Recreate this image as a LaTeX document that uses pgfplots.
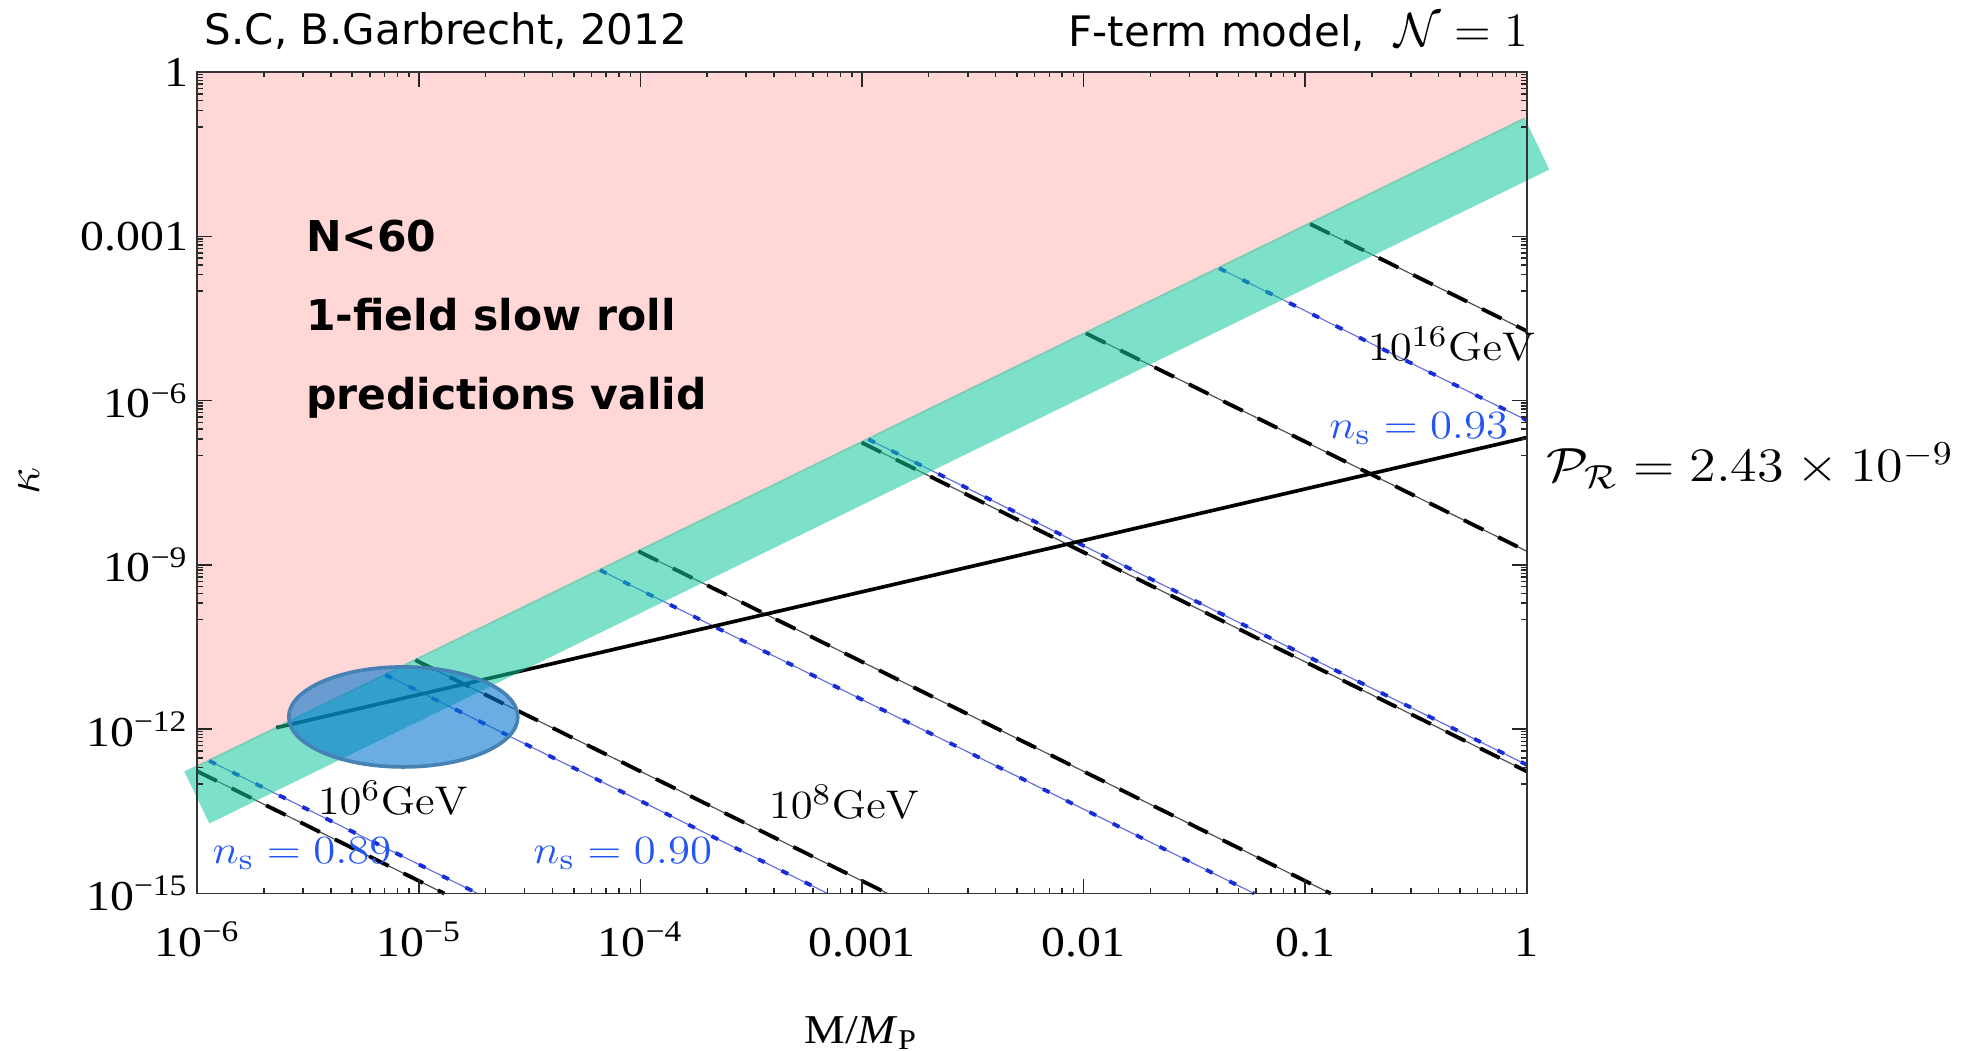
\documentclass[border=0pt]{standalone}
\usepackage[no-math]{fontspec}
\usepackage{graphicx}
\usepackage{pgfplots}
\pgfplotsset{compat=1.18}

\newfontfamily\djv{DejaVu Sans}
\newfontfamily\tickfont[FakeStretch=1.12]{Liberation Serif}

\definecolor{regionpink}{RGB}{255,215,215}
\definecolor{bandgreen}{RGB}{19,199,155}
\definecolor{ellfill}{RGB}{0,116,206}
\definecolor{elledge}{RGB}{70,130,180}
\definecolor{nsblue}{RGB}{25,45,215}
\definecolor{nsthin}{RGB}{100,110,225}
\definecolor{labelblue}{RGB}{35,85,245}

\newcommand{\cmlabel}[1]{\fontsize{12.4}{14}\selectfont\scalebox{1.12}[1]{$#1$}}

\begin{document}
\begin{tikzpicture}
\begin{axis}[
  scale only axis, width=398.8pt, height=246.45pt,
  xmode=log, ymode=log,
  xmin=1e-6, xmax=1, ymin=1e-15, ymax=1,
  clip=false, axis on top,
  xtick={1e-6,1e-5,1e-4,1e-3,1e-2,1e-1,1},
  xticklabels={10\textsuperscript{−6},10\textsuperscript{−5},10\textsuperscript{−4},0.001,0.01,0.1,1},
  ytick={1e-15,1e-12,1e-9,1e-6,1e-3,1},
  yticklabels={10\textsuperscript{−15},10\textsuperscript{−12},10\textsuperscript{−9},10\textsuperscript{−6},0.001,1},
  minor xtick={2e-6,3e-6,4e-6,5e-6,6e-6,7e-6,8e-6,9e-6,
               2e-5,3e-5,4e-5,5e-5,6e-5,7e-5,8e-5,9e-5,
               2e-4,3e-4,4e-4,5e-4,6e-4,7e-4,8e-4,9e-4,
               2e-3,3e-3,4e-3,5e-3,6e-3,7e-3,8e-3,9e-3,
               2e-2,3e-2,4e-2,5e-2,6e-2,7e-2,8e-2,9e-2,
               2e-1,3e-1,4e-1,5e-1,6e-1,7e-1,8e-1,9e-1},
  minor ytick={1e-13,2e-13,3e-13,4e-13,5e-13,6e-13,7e-13,8e-13,9e-13,
               1e-10,2e-10,3e-10,4e-10,5e-10,6e-10,7e-10,8e-10,9e-10,
               1e-7,2e-7,3e-7,4e-7,5e-7,6e-7,7e-7,8e-7,9e-7,
               1e-4,2e-4,3e-4,4e-4,5e-4,6e-4,7e-4,8e-4,9e-4,
               0.1,0.2,0.3,0.4,0.5,0.6,0.7,0.8,0.9},
  tick align=inside,
  major tick length=4.5pt, minor tick length=1.65pt,
  tick style={line width=0.45pt, black!85},
  axis line style={line width=0.55pt, black!80},
  xticklabel style={font=\tickfont\fontsize{12.8}{14}\selectfont, anchor=base, inner sep=0pt, yshift=-18.9pt},
  yticklabel style={font=\tickfont\fontsize{12.8}{14}\selectfont, anchor=east, inner sep=0pt, xshift=-2.6pt},
  energy/.style={gray!60!black, line width=0.35pt,
    postaction={draw=black, line width=1.15pt, dash pattern=on 6.5pt off 5pt}},
  nsline/.style={nsthin, line width=0.35pt,
    postaction={draw=nsblue, line width=1.15pt, dash pattern=on 2.2pt off 5.6pt}},
]
\coordinate (O) at (rel axis cs:0,0);

% region where N<60 and single-field slow roll holds
\addplot[fill=regionpink, draw=none] coordinates {
  (1e-6,1) (1,1) (1,0.1413) (1e-6,2.014e-13) (1e-6,1)};

% contours of constant energy scale (10^6 ... 10^16 GeV)
\addplot[energy] coordinates {(1e-6,1.698e-13) (1.303e-5,1e-15)};
\addplot[energy] coordinates {(9.638e-6,1.828e-11) (1.303e-3,1e-15)};
\addplot[energy] coordinates {(9.795e-5,1.770e-9) (0.1303,1e-15)};
\addplot[energy] coordinates {(9.954e-4,1.714e-7) (1,1.698e-13)};
\addplot[energy] coordinates {(0.010240,1.694e-5) (1,1.778e-9)};
\addplot[energy] coordinates {(0.10530,1.679e-3) (1,1.862e-5)};

% contours of constant spectral index n_s
\addplot[nsline] coordinates {(1.130e-6,2.655e-13) (1.841e-5,1e-15)};
\addplot[nsline] coordinates {(7.047e-6,9.863e-12) (6.998e-4,1e-15)};
\addplot[nsline] coordinates {(6.569e-5,8.035e-10) (0.05888,1e-15)};
\addplot[nsline] coordinates {(1.067e-3,1.968e-7) (1,2.239e-13)};
\addplot[nsline] coordinates {(0.04093,2.606e-4) (1,4.365e-7)};

% amplitude of the power spectrum fixed to the observed value
\addplot[black, line width=1.1pt] coordinates {(2.270e-6,1.064e-12) (1,2.113e-7)};

% transition band
\addplot[fill=bandgreen, fill opacity=0.55, draw=none] coordinates {
  (8.735e-7,1.690e-13) (0.9753,0.1474) (1.2647,0.01654) (1.1329e-6,1.897e-14) (8.735e-7,1.690e-13)};

% favoured region
\draw[fill=ellfill, fill opacity=0.59, draw=elledge, line width=1.1pt]
  (axis cs:8.5e-6,1.675e-12) ellipse [x radius=34.35pt, y radius=15pt];
\end{axis}

% titles
\node[anchor=base west, inner sep=0pt] at ([shift={(1.98pt,254.55pt)}]O)
  {\djv\fontsize{12.6}{15}\selectfont S.C, B.Garbrecht, 2012};
\node[anchor=base east, inner sep=0pt] at ([shift={(399.3pt,254.04pt)}]O)
  {\djv\fontsize{12.6}{15}\selectfont F-term model,\hspace{0.7em}{\fontsize{15.5}{17}\selectfont$\mathcal{N}=1$}};

% region annotation
\begin{scope}[every node/.style={anchor=base west, inner sep=0pt, font=\djv\bfseries\fontsize{12.75}{15}\selectfont}]
\node at ([shift={(32.4pt,192.54pt)}]O) {N<60};
\node at ([shift={(32.4pt,168.84pt)}]O) {1-field slow roll};
\node at ([shift={(32.4pt,145.05pt)}]O) {predictions valid};
\end{scope}

% contour labels
\begin{scope}[every node/.style={anchor=base, inner sep=0pt}]
\node at ([shift={(58.68pt,23.55pt)}]O) {\cmlabel{10^{6}\mathrm{GeV}}};
\node at ([shift={(194.0pt,22.35pt)}]O) {\cmlabel{10^{8}\mathrm{GeV}}};
\node at ([shift={(376.29pt,159.84pt)}]O) {\cmlabel{10^{16}\mathrm{GeV}}};
\node[text=labelblue] at ([shift={(31.38pt,9.06pt)}]O) {\cmlabel{n_{\mathrm{s}}=0.89}};
\node[text=labelblue] at ([shift={(127.59pt,9.06pt)}]O) {\cmlabel{n_{\mathrm{s}}=0.90}};
\node[text=labelblue] at ([shift={(366.39pt,136.56pt)}]O) {\cmlabel{n_{\mathrm{s}}=0.93}};
\end{scope}
\node[anchor=base west, inner sep=0pt] at ([shift={(404.58pt,123.54pt)}]O)
  {\fontsize{14}{16}\selectfont\scalebox{1.13}[1]{$\mathcal{P}_{\mathcal{R}}=2.43\times10^{-9}$}};

% axis labels
\node[rotate=90, inner sep=0pt] at ([shift={(-50.6pt,123.75pt)}]O)
  {\fontsize{14.5}{16}\selectfont$\kappa$};
\node[anchor=base, inner sep=0pt] at ([shift={(199.08pt,-44.94pt)}]O)
  {\tickfont\fontsize{12.3}{14}\selectfont M/\textit{M}\textsubscript{P}};

\pgfresetboundingbox
\path[use as bounding box] ([shift={(-59.22pt,-47.25pt)}]O) rectangle ++(591.3pt,315.3pt);
\end{tikzpicture}
\end{document}
